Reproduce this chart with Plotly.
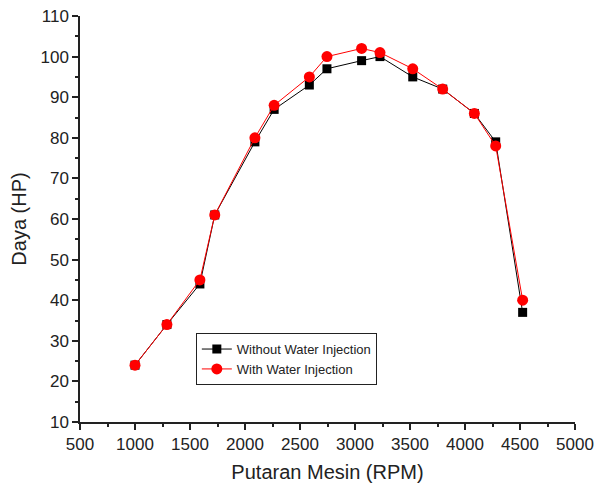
import plotly.graph_objects as go

rpm = [1000, 1290, 1590, 1725, 2090, 2265, 2585, 2745, 3060, 3227, 3525, 3797, 4085, 4279, 4524]
without_wi = [24, 34, 44, 61, 79, 87, 93, 97, 99, 100, 95, 92, 86, 79, 37]
with_wi = [24, 34, 45, 61, 80, 88, 95, 100, 102, 101, 97, 92, 86, 78, 40]

fig = go.Figure()
fig.add_trace(go.Scatter(x=rpm, y=without_wi, mode="lines+markers", name="Without Water Injection",
                         line=dict(color="black", width=1),
                         marker=dict(symbol="square", size=9, color="black")))
fig.add_trace(go.Scatter(x=rpm, y=with_wi, mode="lines+markers", name="With Water Injection",
                         line=dict(color="red", width=1),
                         marker=dict(symbol="circle", size=11, color="red")))

FONT = "Liberation Sans, Arial"
axis_common = dict(showline=True, linecolor="#222", linewidth=1.5, ticks="outside", ticklen=6,
                   tickwidth=1.5, tickcolor="#222", showgrid=False, zeroline=False, automargin=False,
                   tickfont=dict(family=FONT, size=17, color="#222"))
fig.update_xaxes(range=[500, 5000], dtick=500, tick0=500,
                 minor=dict(ticks="outside", ticklen=3, dtick=250, tickcolor="#222", tickwidth=1.5),
                 title=dict(text="Putaran Mesin (RPM)", font=dict(family=FONT, size=20, color="#222"), standoff=12),
                 **axis_common)
fig.update_yaxes(range=[10, 110], dtick=10, tick0=10,
                 minor=dict(ticks="outside", ticklen=3, dtick=5, tickcolor="#222", tickwidth=1.5),
                 title=dict(text="Daya (HP)", font=dict(family=FONT, size=20, color="#222"), standoff=8),
                 **axis_common)
fig.update_layout(width=594, height=484, margin=dict(l=80, r=19, t=16, b=62),
                  plot_bgcolor="white", paper_bgcolor="white",
                  legend=dict(x=0.234, y=0.219, xanchor="left", yanchor="top",
                              bordercolor="#222", borderwidth=1, bgcolor="white",
                              font=dict(family=FONT, size=13, color="#222"),
                              tracegroupgap=0, itemwidth=30))
fig.write_html("out.html", config={"displayModeBar": False},
               post_script="document.body.style.margin='0px';document.body.style.overflow='hidden';")
